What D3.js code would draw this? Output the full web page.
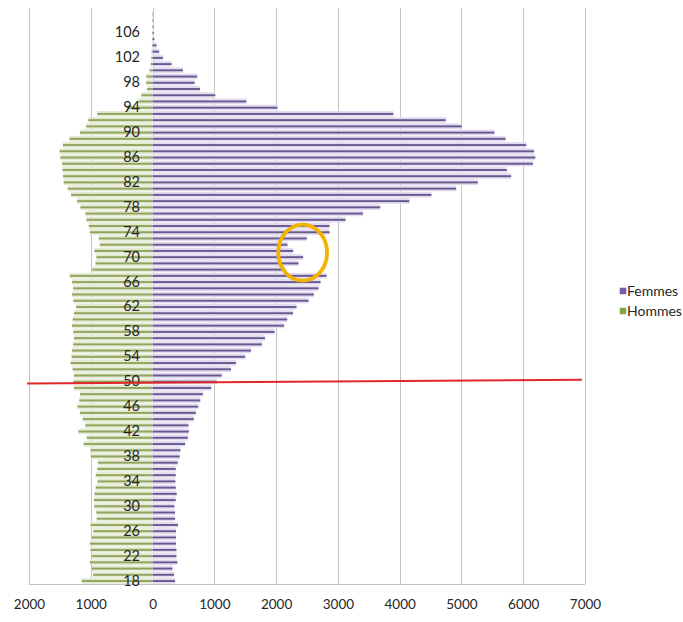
<!DOCTYPE html>
<html>
<head>
<meta charset="utf-8">
<script src="https://cdn.jsdelivr.net/npm/d3@7"></script>
<style>
  html, body { margin: 0; padding: 0; background: #ffffff; }
  svg { display: block; }
  text { font-family: Lato, "Open Sans", "Liberation Sans", sans-serif; fill: #262626; }
</style>
</head>
<body>
<svg id="chart" width="683" height="622"></svg>
<script>
// Population by single year of age, 18 to 109
const ages = [18, 19, 20, 21, 22, 23, 24, 25, 26, 27, 28, 29, 30, 31, 32, 33, 34, 35, 36, 37,
  38, 39, 40, 41, 42, 43, 44, 45, 46, 47, 48, 49, 50, 51, 52, 53, 54, 55, 56, 57,
  58, 59, 60, 61, 62, 63, 64, 65, 66, 67, 68, 69, 70, 71, 72, 73, 74, 75, 76, 77,
  78, 79, 80, 81, 82, 83, 84, 85, 86, 87, 88, 89, 90, 91, 92, 93, 94, 95, 96, 97,
  98, 99, 100, 101, 102, 103, 104, 105, 106, 107, 108, 109];

const femmes = [364, 348, 321, 402, 386, 386, 380, 380, 380, 413, 364, 364, 353, 375, 391, 375, 370, 375, 375, 408,
  440, 451, 527, 571, 587, 582, 668, 701, 739, 772, 815, 950, 1040, 1120, 1270, 1352, 1500, 1594, 1770, 1820,
  1975, 2130, 2180, 2273, 2330, 2525, 2611, 2686, 2719, 2816, 2150, 2362, 2438, 2276, 2184, 2497, 2865, 2865, 3124, 3405,
  3686, 4157, 4514, 4914, 5265, 5805, 5735, 6157, 6195, 6173, 6049, 5714, 5535, 5005, 4746, 3897, 2022, 1519, 1016, 768,
  681, 724, 492, 308, 168, 108, 65, 30, 20, 15, 10, 6];

const hommes = [1147, 960, 980, 1015, 985, 1005, 1015, 990, 960, 1005, 905, 910, 945, 950, 940, 920, 890, 920, 895, 885,
  1000, 1005, 1115, 1065, 1200, 1090, 1130, 1175, 1215, 1185, 1175, 1272, 1283, 1272, 1293, 1326, 1310, 1304, 1283, 1272,
  1283, 1304, 1293, 1272, 1239, 1280, 1303, 1286, 1303, 1340, 978, 924, 908, 940, 854, 870, 1016, 1032, 1070, 1086,
  1168, 1222, 1319, 1373, 1438, 1449, 1459, 1465, 1492, 1505, 1450, 1345, 1176, 1075, 1040, 895, 420, 230, 180, 88,
  103, 103, 49, 30, 20, 14, 10, 7, 5, 4, 3, 2];

const ageTicks = [18, 22, 26, 30, 34, 38, 42, 46, 50, 54, 58, 62, 66, 70, 74, 78, 82, 86, 90, 94, 98, 102, 106];
const valueTicks = [-2000, -1000, 0, 1000, 2000, 3000, 4000, 5000, 6000, 7000];

const seriesNames = ["Femmes", "Hommes"];

// Hand-drawn annotations, in data units (value, age)
const markerLine = { values: [-2030, 6950], ages: [49.7, 50.3] };
const markerRing = { value: 2430, age: 70.7, rValue: 395, rAge: 4.5 };

const colors = {
  femmesLight: "#e2dbef", femmesDark: "#67598f",
  hommesLight: "#e3e9d3", hommesDark: "#8fa45a",
  grid: "#c4c4c4", line: "#e0262b", ring: "#f2b300"
};

const svg = d3.select("#chart");

const x = d3.scaleLinear().domain([-2000, 7000]).range([29, 585]);
const y = d3.scaleBand().domain(ages.slice().reverse()).range([11, 584]).padding(0);
const bw = y.bandwidth();
const yc = d3.scaleLinear().domain([18, 109]).range([y(18) + bw / 2, y(109) + bw / 2]);

// vertical gridlines
svg.append("g").selectAll("line").data(valueTicks).join("line")
  .attr("x1", d => Math.round(x(d)) + 0.5).attr("x2", d => Math.round(x(d)) + 0.5)
  .attr("y1", 8).attr("y2", 584)
  .attr("stroke", colors.grid).attr("stroke-width", 1);

// horizontal value axis line
svg.append("line")
  .attr("x1", x(-2000)).attr("x2", x(7000))
  .attr("y1", 584.5).attr("y2", 584.5)
  .attr("stroke", colors.grid);

const rows = ages.map((a, i) => ({ age: a, f: femmes[i], h: hommes[i] }));

function drawSide(key, sign, light, dark) {
  const g = svg.append("g");
  g.selectAll("rect.light").data(rows).join("rect").attr("class", "light")
    .attr("x", d => Math.min(x(0), x(sign * d[key])))
    .attr("width", d => Math.abs(x(sign * d[key]) - x(0)))
    .attr("y", d => y(d.age) + 0.3)
    .attr("height", bw - 0.6)
    .attr("fill", light);
  g.selectAll("rect.dark").data(rows).join("rect").attr("class", "dark")
    .attr("x", d => Math.min(x(0), x(sign * d[key])))
    .attr("width", d => Math.abs(x(sign * d[key]) - x(0)))
    .attr("y", d => y(d.age) + bw / 2 - 0.8)
    .attr("height", 1.9)
    .attr("fill", dark);
}
drawSide("h", -1, colors.hommesLight, colors.hommesDark);
drawSide("f", 1, colors.femmesLight, colors.femmesDark);

// age labels along the zero line
const yAxis = d3.axisLeft(y).tickValues(ageTicks).tickSize(0).tickPadding(0);
const gy = svg.append("g").attr("transform", "translate(140,0)").call(yAxis);
gy.select(".domain").remove();
gy.selectAll("text").attr("font-size", 14.5).attr("fill", "#262626")
  .style("font-family", "Lato, 'Open Sans', sans-serif");

// value labels below the plot
const xAxis = d3.axisBottom(x).tickValues(valueTicks).tickSize(0).tickPadding(0)
  .tickFormat(d => String(Math.abs(d)));
const gx = svg.append("g").attr("transform", "translate(0,599)").call(xAxis);
gx.select(".domain").remove();
gx.selectAll("text").attr("font-size", 13.5).attr("fill", "#262626")
  .style("font-family", "Lato, 'Open Sans', sans-serif");

// annotation: red line around age 50
svg.append("line")
  .attr("x1", x(markerLine.values[0])).attr("y1", yc(markerLine.ages[0]))
  .attr("x2", x(markerLine.values[1])).attr("y2", yc(markerLine.ages[1]))
  .attr("stroke", colors.line).attr("stroke-width", 2);

// annotation: ring around the dip
svg.append("ellipse")
  .attr("cx", x(markerRing.value)).attr("cy", yc(markerRing.age))
  .attr("rx", x(markerRing.value + markerRing.rValue) - x(markerRing.value))
  .attr("ry", yc(markerRing.age) - yc(markerRing.age + markerRing.rAge))
  .attr("fill", "none").attr("stroke", colors.ring).attr("stroke-width", 3.8);

// legend
const legend = svg.append("g").attr("transform", "translate(620,0)");
const legendColors = [colors.femmesDark, colors.hommesDark];
const legendFill = ["#7a5fae", "#7fa83f"];
seriesNames.forEach((name, i) => {
  const ly = 291 + i * 20;
  legend.append("rect").attr("x", 0).attr("y", ly - 3).attr("width", 6).attr("height", 6)
    .attr("fill", legendFill[i]).attr("stroke", legendColors[i]).attr("stroke-width", 0.5);
  legend.append("text").attr("x", 7).attr("y", ly).attr("dy", "0.35em")
    .attr("font-size", 14).text(name);
});
</script>
</body>
</html>
